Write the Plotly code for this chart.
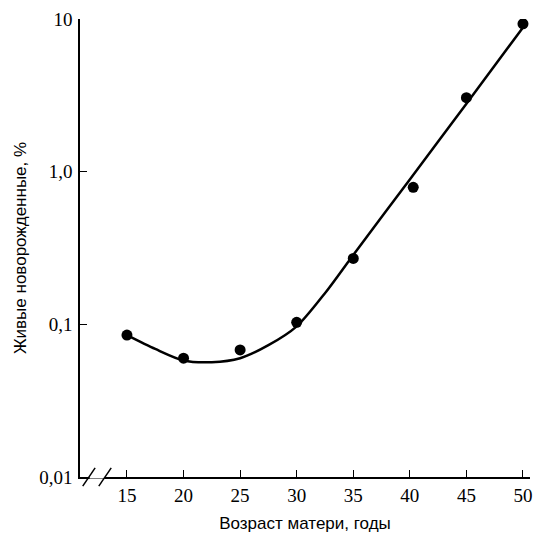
import plotly.graph_objects as go

# observed points: mother's age (years) vs % of live births
age = [15, 20, 25, 30, 35, 40.3, 45, 50]
percent = [0.085, 0.060, 0.068, 0.103, 0.27, 0.79, 3.05, 9.3]

# fitted curve
curve_age = [15, 17.5, 20, 22.5, 25, 27.5, 30, 32.5, 35, 40, 45, 50]
curve_pct = [0.085, 0.069, 0.058, 0.0565, 0.060, 0.073, 0.097, 0.16, 0.285, 0.89, 2.79, 8.8]

x_ticks = [15, 20, 25, 30, 35, 40, 45, 50]
y_ticks = [0.01, 0.1, 1, 10]
y_labels = ["0,01", "0,1", "1,0", "10"]

fig = go.Figure()

fig.add_trace(go.Scatter(
    x=curve_age, y=curve_pct, mode="lines",
    line=dict(color="black", width=2.5, shape="spline", smoothing=0.8),
    hoverinfo="skip", showlegend=False
))

fig.add_trace(go.Scatter(
    x=age, y=percent, mode="markers",
    marker=dict(color="black", size=11),
    showlegend=False
))

# axis break: white gap plus two slashes
fig.add_shape(type="line", xref="x", yref="paper", x0=11.7, x1=13.0, y0=0, y1=0,
              line=dict(color="white", width=3))
for xc in [11.64, 13.06]:
    fig.add_shape(type="line", xref="x", yref="paper",
                  x0=xc - 0.55, x1=xc + 0.55, y0=-0.02, y1=0.02,
                  line=dict(color="black", width=1.5))

fig.update_xaxes(
    range=[10.85, 50.62], tickvals=x_ticks,
    showline=True, linecolor="black", linewidth=1.5,
    ticks="inside", ticklen=7, tickcolor="black", tickwidth=1.2,
    showgrid=False, zeroline=False,
    tickfont=dict(family="Liberation Serif", size=19, color="black"),
    title=dict(text="Возраст матери, годы",
               font=dict(family="Liberation Sans", size=17, color="black"),
               standoff=13)
)

fig.update_yaxes(
    type="log", range=[-2, 1], tickvals=y_ticks, ticktext=y_labels,
    showline=True, linecolor="black", linewidth=1.5,
    ticks="inside", ticklen=7, tickcolor="black", tickwidth=1.2,
    showgrid=False, zeroline=False, ticklabelstandoff=2,
    tickfont=dict(family="Liberation Serif", size=19, color="black"),
    title=dict(text="Живые новорожденные, %",
               font=dict(family="Liberation Sans", size=17, color="black"),
               standoff=8)
)

fig.update_layout(
    width=537, height=538,
    margin=dict(l=80, r=7, t=19, b=61, autoexpand=False),
    plot_bgcolor="white", paper_bgcolor="white"
)

fig.write_html("out.html", config={"displayModeBar": False},
               post_script="document.body.style.margin='0';")
